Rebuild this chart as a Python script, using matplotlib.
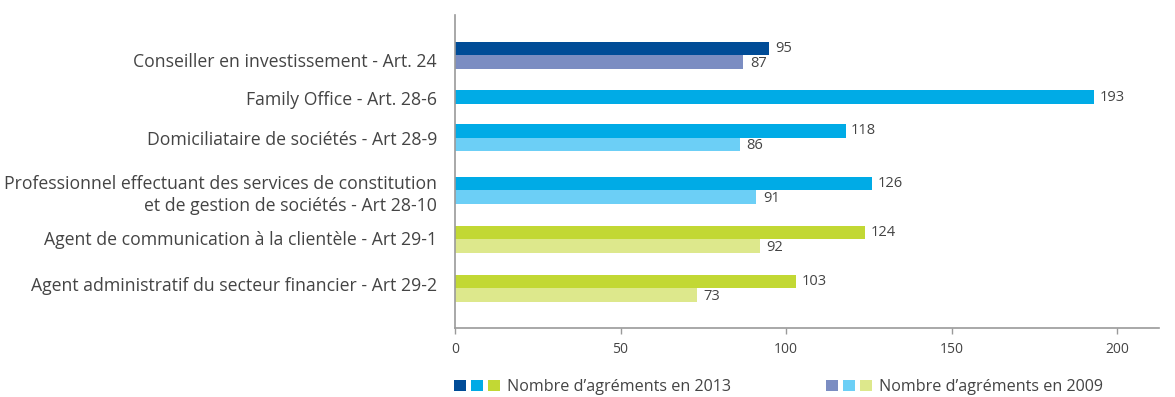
import matplotlib
matplotlib.use("Agg")
import matplotlib.pyplot as plt
from matplotlib.patches import Patch
from matplotlib.legend_handler import HandlerTuple

# Data
categories = [
    "Conseiller en investissement - Art. 24",
    "Family Office - Art. 28-6",
    "Domiciliataire de sociétés - Art 28-9",
    "Professionnel effectuant des services de constitution\net de gestion de sociétés - Art 28-10",
    "Agent de communication à la clientèle - Art 29-1",
    "Agent administratif du secteur financier - Art 29-2",
]
values_2013 = [95, 193, 118, 126, 124, 103]
values_2009 = [87, None, 86, 91, 92, 73]
series_labels = ["Nombre d\u2019agréments en 2013", "Nombre d\u2019agréments en 2009"]
x_ticks = [0, 50, 100, 150, 200]

# Per-row colours (dark / light shades of each family)
colors_2013 = ["#004C97", "#00ABE6", "#00ABE6", "#00ABE6", "#C2D834", "#C2D834"]
colors_2009 = ["#7B8DC2", "#6CCFF6", "#6CCFF6", "#6CCFF6", "#DDE88C", "#DDE88C"]

# Layout (vertical positions in a top-down coordinate system)
group_centers = [55, 97, 137.5, 190, 239, 288]
label_pos = [59.5, 98, 138, 191, 238, 284]
bar_h = 13.5

FONT = "Open Sans"
TXT = "#444444"
AXC = "#9A9A9A"

W, H = 1175, 397
fig = plt.figure(figsize=(W / 100, H / 100), dpi=100)
ax = fig.add_axes([455 / W, (H - 328) / H, (1159 - 455) / W, (328 - 15) / H])

for i, c in enumerate(categories):
    v13, v09 = values_2013[i], values_2009[i]
    yc = group_centers[i]
    if v09 is None:
        ax.barh(yc, v13, height=bar_h, color=colors_2013[i], linewidth=0)
        ax.annotate(str(v13), (v13, yc), xytext=(4, 0), textcoords="offset points",
                    va="center", ha="left", fontsize=10.5, color=TXT, family=FONT)
    else:
        y13 = yc - bar_h / 2
        y09 = yc + bar_h / 2
        ax.barh(y13, v13, height=bar_h, color=colors_2013[i], linewidth=0)
        ax.barh(y09, v09, height=bar_h, color=colors_2009[i], linewidth=0)
        ax.annotate(str(v13), (v13, y13), xytext=(4, 0), textcoords="offset points",
                    va="center", ha="left", fontsize=10.5, color=TXT, family=FONT)
        ax.annotate(str(v09), (v09, y09), xytext=(5, -1), textcoords="offset points",
                    va="center", ha="left", fontsize=10.5, color=TXT, family=FONT)

ax.set_xlim(0, 704 / 3.31)
ax.set_ylim(328, 15)
ax.set_xticks(x_ticks)
ax.set_xticklabels([str(t) for t in x_ticks], fontsize=10, color=TXT, family=FONT)
ax.tick_params(axis="x", length=4, width=1, color=AXC, pad=6)

ax.set_yticks(label_pos)
ax.set_yticklabels(categories, fontsize=12.7, color=TXT, family=FONT, linespacing=1.25)
ax.tick_params(axis="y", length=0, pad=13)

for s in ["top", "right"]:
    ax.spines[s].set_visible(False)
for s in ["left", "bottom"]:
    ax.spines[s].set_color(AXC)
    ax.spines[s].set_linewidth(1.2)

# Legend: three coloured squares per series
h13 = tuple(Patch(facecolor=c, linewidth=0) for c in ["#004C97", "#00ABE6", "#C2D834"])
h09 = tuple(Patch(facecolor=c, linewidth=0) for c in ["#7B8DC2", "#6CCFF6", "#DDE88C"])
fs_leg = 11.6
px = fs_leg * 100 / 72
leg = fig.legend([h13, h09], series_labels,
                 handler_map={tuple: HandlerTuple(ndivide=None, pad=5 / px)},
                 loc="center left", bbox_to_anchor=(454 / W, (H - 387) / H),
                 bbox_transform=fig.transFigure, ncol=2, frameon=False,
                 borderpad=0, borderaxespad=0,
                 handlelength=46 / px, handleheight=12 / px,
                 handletextpad=7 / px, columnspacing=95 / px,
                 prop={"family": FONT, "size": fs_leg})
for t in leg.get_texts():
    t.set_color(TXT)

fig.savefig("out.png", dpi=100)
